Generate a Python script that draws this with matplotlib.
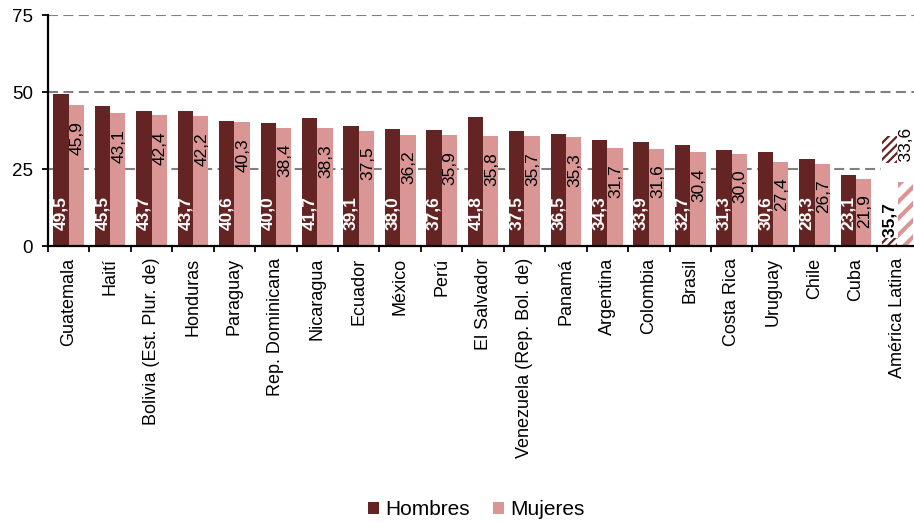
#!/usr/bin/env python3

import numpy as np
import matplotlib
matplotlib.use("Agg")
import matplotlib.pyplot as plt

paises = ["Guatemala", "Haití", "Bolivia (Est. Plur. de)", "Honduras", "Paraguay",
          "Rep. Dominicana", "Nicaragua", "Ecuador", "México", "Perú", "El Salvador",
          "Venezuela (Rep. Bol. de)", "Panamá", "Argentina", "Colombia", "Brasil",
          "Costa Rica", "Uruguay", "Chile", "Cuba", "América Latina"]
hombres = [49.5, 45.5, 43.7, 43.7, 40.6, 40.0, 41.7, 39.1, 38.0, 37.6, 41.8,
           37.5, 36.5, 34.3, 33.9, 32.7, 31.3, 30.6, 28.3, 23.1, 35.7]
mujeres = [45.9, 43.1, 42.4, 42.2, 40.3, 38.4, 38.3, 37.5, 36.2, 35.9, 35.8,
           35.7, 35.3, 31.7, 31.6, 30.4, 30.0, 27.4, 26.7, 21.9, 33.6]
yticks = [0, 25, 50, 75]

c_h = '#632423'
c_m = '#D99694'


def fmt(v):
	return f"{v:.1f}".replace('.', ',')


def main():
	plt.rcParams['font.family'] = ['Liberation Sans', 'DejaVu Sans']
	plt.rcParams['hatch.linewidth'] = 1.6

	fig = plt.figure(figsize=(9.14, 5.23), dpi=100)
	ax = fig.add_axes([0.0525, 0.5296, 0.952, 0.4417])

	x = np.arange(len(paises))
	w = 0.37
	bh = ax.bar(x - w / 2, hombres, w, color=c_h, label='Hombres', zorder=2)
	bm = ax.bar(x + w / 2, mujeres, w, color=c_m, label='Mujeres', zorder=2)

	# promedio regional con trama
	bh[-1].set(facecolor='white', edgecolor=c_h, hatch='////', linewidth=0)
	bm[-1].set(facecolor='white', edgecolor=c_m, hatch='//', linewidth=0)
	try:
		bm[-1].set_hatch_linewidth(3)
	except AttributeError:
		pass

	n = len(paises)
	for i in range(n - 1):
		ax.annotate(fmt(hombres[i]), (x[i] - w / 2, 0), xytext=(0, 16),
					textcoords='offset pixels', rotation=90, ha='center', va='bottom',
					color='white', fontsize=12.5, fontweight='bold', zorder=3)
		ax.annotate(fmt(mujeres[i]), (x[i] + w / 2, mujeres[i]), xytext=(1, -16),
					textcoords='offset pixels', rotation=90, ha='center', va='top',
					color='black', fontsize=12.5, zorder=3)

	# etiquetas de América Latina sobre caja blanca
	i = n - 1
	ax.annotate(fmt(hombres[i]) + ' ' * 8, (x[i] - w / 2, 0), xytext=(0, 9),
				textcoords='offset pixels', rotation=90, ha='center', va='bottom',
				color='black', fontsize=12.5, fontweight='bold', zorder=4,
				bbox=dict(boxstyle='square,pad=0.05', fc='white', ec='none'))
	ax.annotate(' ' * 4 + fmt(mujeres[i]), (x[i] + w / 2, mujeres[i]), xytext=(1, 15),
				textcoords='offset pixels', rotation=90, ha='center', va='top',
				color='black', fontsize=12.5, zorder=4,
				bbox=dict(boxstyle='square,pad=0.05', fc='white', ec='none'),
				annotation_clip=False)

	ax.set_xlim(-0.5, n - 0.5)
	ax.set_ylim(0, 75)
	ax.set_yticks(yticks)
	ax.set_yticklabels([str(v) for v in yticks], fontsize=13.5)
	for v in yticks[1:]:
		ax.axhline(v, color='#808080', lw=1.5, ls=(0, (4.8, 2.6)), zorder=1)

	ax.set_xticks(x)
	ax.set_xticklabels(paises, rotation=90, fontsize=13)
	ax.set_xticks(np.arange(n + 1) - 0.5, minor=True)
	ax.tick_params(axis='x', which='major', length=0, pad=8.5)
	ax.tick_params(axis='x', which='minor', length=4, width=1.3, direction='out')
	ax.tick_params(axis='y', length=4, width=1.3, pad=7)

	for s in ['top', 'right']:
		ax.spines[s].set_visible(False)
	ax.spines['left'].set_linewidth(1.6)
	ax.spines['bottom'].set_linewidth(1.6)
	ax.spines['left'].set_zorder(5)
	ax.spines['bottom'].set_zorder(5)

	fig.legend(handles=[bh, bm], labels=['Hombres', 'Mujeres'], loc='center',
			   bbox_to_anchor=(0.521, 0.025), ncol=2, frameon=False, fontsize=15,
			   handlelength=0.55, handleheight=0.55, handletextpad=0.3,
			   columnspacing=1.1)

	fig.savefig('out.png', dpi=100)


if __name__ == "__main__":
	main()
